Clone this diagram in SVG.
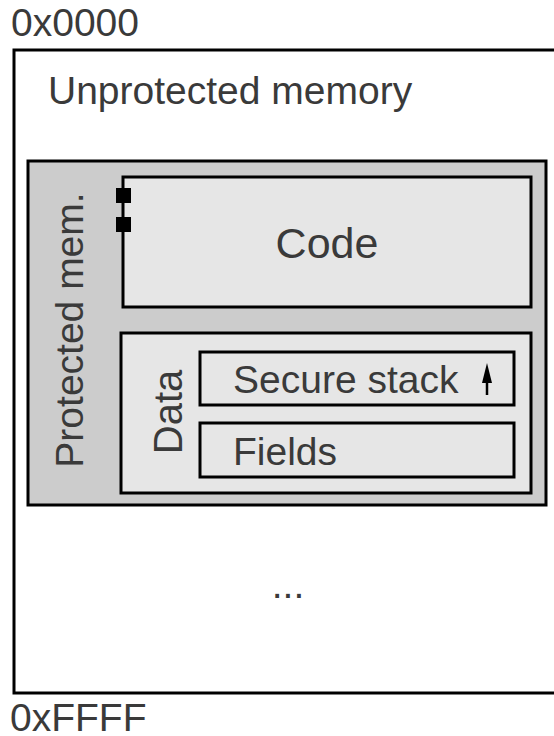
<svg xmlns="http://www.w3.org/2000/svg" width="554" height="736" viewBox="0 0 554 736">
<style>
text{font-family:"Liberation Sans",Arial,sans-serif;fill:#3a3a3a}
.box{stroke:#000;stroke-width:3}
</style>
<rect width="554" height="736" fill="#fff"/>
<g id="labels">
<text x="11" y="36" font-size="39">0x0000</text>
<text x="10" y="731" font-size="39">0xFFFF</text>
</g>
<g id="unprotected">
<rect class="box" x="14" y="50" width="560" height="643" fill="#fff"/>
<text x="48" y="104" font-size="39">Unprotected memory</text>
<text x="288" y="598" font-size="39" text-anchor="middle">...</text>
</g>
<g id="protected">
<rect class="box" x="28" y="161" width="518" height="344" fill="#cccccc"/>
<text transform="translate(83,330) rotate(-90)" font-size="39" text-anchor="middle">Protected mem.</text>
</g>
<g id="code">
<rect class="box" x="123" y="177" width="408" height="130" fill="#e6e6e6"/>
<text x="327" y="258" font-size="43" text-anchor="middle">Code</text>
<rect x="116" y="188" width="15" height="15" fill="#000"/>
<rect x="116" y="217" width="15" height="15" fill="#000"/>
</g>
<g id="data">
<rect class="box" x="121" y="333" width="410" height="160" fill="#e6e6e6"/>
<text transform="translate(182,412) rotate(-90)" font-size="40" text-anchor="middle">Data</text>
</g>
<g id="stack">
<rect class="box" x="200" y="352" width="314" height="53" fill="#e6e6e6"/>
<text x="233" y="393" font-size="39">Secure stack</text>
</g>
<g id="fields">
<rect class="box" x="200" y="423" width="314" height="54" fill="#e6e6e6"/>
<text x="233" y="465" font-size="39">Fields</text>
</g>
<g id="connectors">
<line x1="487" y1="395" x2="487" y2="378" stroke="#000" stroke-width="2.5"/>
<polygon points="487,363 482,383 492,383" fill="#000"/>
</g>
</svg>
